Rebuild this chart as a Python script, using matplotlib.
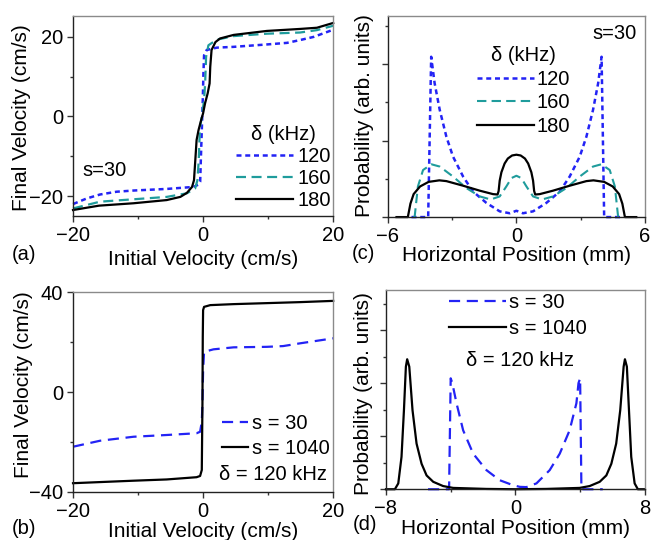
import numpy as np
import matplotlib
matplotlib.use("Agg")
import matplotlib.pyplot as plt
from matplotlib.ticker import MultipleLocator, NullFormatter

plt.rcParams['font.family'] = ['Liberation Sans', 'DejaVu Sans']

BLUE = '#2323f5'
TEAL = '#1f9c9c'
BLACK = '#000000'

# (a) final vs initial velocity, s=30, three detunings
a_x120 = [-20, -17.9, -15.85, -13.3, -10.7, -5.6, -1.5, -0.7, -0.45, -0.35, -0.25, -0.15,
          -0.05, 0.05, 0.15, 0.55, 2.1, 4.7, 9.8, 12.9, 14.9, 17.0, 20]
a_y120 = [-22.0, -20.6, -19.6, -18.9, -18.6, -18.2, -17.7, -17.1, -16.4, -11.0, -5.9, -0.9,
          4.1, 10.8, 15.4, 16.7, 17.3, 17.5, 18.1, 18.5, 19.2, 20.0, 21.8]
a_x160 = [-20, -15.85, -10.7, -5.6, -2.5, -1.23, -0.87, -0.67, -0.56, -0.46, -0.2, 0.15,
          0.31, 0.46, 0.82, 2.1, 4.7, 9.8, 14.9, 17.5, 20]
a_y160 = [-23.1, -21.4, -20.8, -20.2, -19.3, -18.1, -16.0, -11.0, -5.9, -2.6, -0.1, 4.1,
          8.3, 15.0, 17.9, 19.3, 20.2, 20.8, 21.1, 21.7, 22.8]
a_x180 = [-20, -16, -10.7, -5.6, -3.5, -2.5, -1.7, -1.4, -1.2, -1.0, -0.7, -0.3, 0, 0.3,
          0.7, 1.0, 1.1, 1.3, 1.9, 2.6, 4.7, 9.8, 14.9, 17.5, 20]
a_y180 = [-23.5, -22.4, -21.8, -21.0, -20.2, -19.2, -17.7, -16.0, -11.0, -5.9, -3.4, -0.9,
          0.8, 3.3, 5.8, 8.3, 12.5, 16.7, 18.7, 19.6, 20.5, 21.5, 22.0, 22.3, 23.5]

# (b) final vs initial velocity, delta=120 kHz, two s values
b_x30 = [-20, -15.85, -10.7, -5.6, -1.0, -0.46, -0.2, -0.1, 0, 0.15, 1.6, 4.7, 9.8, 12.3, 14.9, 20]
b_y30 = [-21.9, -19.5, -17.9, -17.2, -16.5, -15.9, -11.9, -4.5, 8.8, 16.1, 17.1, 17.9, 18.1,
         18.4, 19.5, 21.5]
b_x1040 = [-20, -10.7, -5.6, -1.0, -0.46, -0.2, -0.1, -0.05, 0, 0.15, 1.1, 4.7, 9.8, 14.9, 20]
b_y1040 = [-36.5, -35.5, -35.0, -34.1, -33.6, -31.2, -4.5, 22.1, 32.8, 34.1, 34.8, 35.2,
           35.6, 36.0, 36.5]

# (c) position distribution, s=30
c_x120 = [-4.9, -4.12, -3.98, -3.82, -3.58, -3.27, -2.96, -2.49, -2.03, -1.40, -0.78, -0.31,
          0, 0.31, 0.78, 1.40, 2.03, 2.49, 2.96, 3.27, 3.58, 3.82, 3.98, 4.1, 4.85]
c_y120 = [0, 0, 4.19, 3.5, 2.8, 2.1, 1.58, 1.06, 0.67, 0.37, 0.15, 0.10, 0.165, 0.10, 0.15,
          0.37, 0.67, 1.06, 1.58, 2.1, 2.8, 3.5, 4.19, 0, 0]
c_x160 = [-4.8, -4.75, -4.6, -4.36, -3.97, -3.58, -2.96, -2.34, -1.71, -1.2, -0.78, -0.47,
          -0.23, 0, 0.23, 0.47, 0.78, 1.2, 1.71, 2.34, 2.96, 3.58, 3.97, 4.36, 4.6, 4.75, 4.8]
c_y160 = [0, 0.02, 0.8, 1.23, 1.38, 1.32, 1.06, 0.76, 0.54, 0.46, 0.54, 0.80, 1.02, 1.08,
          1.02, 0.80, 0.54, 0.46, 0.54, 0.76, 1.06, 1.32, 1.38, 1.23, 0.8, 0.02, 0]
c_x180 = [-5.6, -5.07, -4.95, -4.8, -4.5, -4.1, -3.6, -3.27, -2.49, -1.71, -1.09, -0.88,
          -0.83, -0.78, -0.70, -0.55, -0.40, -0.2, 0, 0.2, 0.40, 0.55, 0.70, 0.78, 0.83, 0.88,
          1.09, 1.71, 2.49, 3.27, 3.6, 4.1, 4.5, 4.8, 4.95, 5.07, 5.6]
c_y180 = [0, 0, 0.35, 0.6, 0.8, 0.92, 0.96, 0.94, 0.82, 0.69, 0.60, 0.59, 0.68, 0.95, 1.17,
          1.40, 1.53, 1.61, 1.63, 1.61, 1.53, 1.40, 1.17, 0.95, 0.68, 0.59, 0.60, 0.69, 0.82,
          0.94, 0.96, 0.92, 0.8, 0.6, 0.35, 0, 0]

# (d) position distribution, delta=120 kHz
d_x30 = [-5.4, -4.1, -4.0, -3.9, -3.64, -3.23, -2.61, -1.79, -0.97, -0.14, 0.27, 0.68, 1.30,
         2.12, 2.74, 3.35, 3.77, 3.9, 4.0, 4.08, 5.4]
d_y30 = [0, 0, 2.09, 2.0, 1.62, 1.11, 0.67, 0.36, 0.17, 0.075, 0.045, 0.04, 0.11, 0.36, 0.67,
         1.11, 1.62, 2.0, 2.09, 0, 0]
d_x1040 = [-8, -7.45, -7.24, -7.04, -6.89, -6.77, -6.69, -6.56, -6.36, -6.11, -5.80, -5.49,
           -5.08, -4.47, -3.85, -1.79, 0, 1.91, 3.97, 4.59, 5.21, 5.62, 5.93, 6.23, 6.48, 6.69,
           6.77, 6.89, 7.02, 7.16, 7.37, 7.57, 8]
d_y1040 = [0, 0, 0.11, 0.61, 1.49, 2.31, 2.45, 2.31, 1.49, 0.86, 0.48, 0.26, 0.14, 0.06, 0.025,
           0.006, 0, 0.006, 0.025, 0.06, 0.14, 0.26, 0.48, 0.86, 1.49, 2.31, 2.45, 2.31, 1.49,
           0.61, 0.11, 0, 0]

DOT = (0, (2, 1.5))
DASH_T = (0, (4.5, 2.5))
DASH_B = (0, (5, 3))
FS = 14.5


def style(ax):
    for side in ('left', 'bottom'):
        ax.spines[side].set_color('#222222')
    for side in ('top', 'right'):
        ax.spines[side].set_color('#8a8a8a')
    for sp in ax.spines.values():
        sp.set_linewidth(1.0)
    ax.tick_params(which='both', direction='out', labelsize=FS, color='#333333', width=1.0)
    ax.tick_params(which='major', length=4.5, pad=2.5)
    ax.tick_params(which='minor', length=2.5)


fig = plt.figure(figsize=(6.52, 5.40), dpi=100)
ax_a = fig.add_axes([0.112, 0.600, 0.399, 0.370])
ax_b = fig.add_axes([0.112, 0.089, 0.399, 0.370])
ax_c = fig.add_axes([0.595, 0.598, 0.394, 0.372])
ax_d = fig.add_axes([0.592, 0.094, 0.397, 0.3685])

# ---- (a)
ax_a.plot(a_x120, a_y120, color=BLUE, lw=1.8, ls=DOT, label='120')
ax_a.plot(a_x160, a_y160, color=TEAL, lw=1.6, ls=DASH_T, label='160')
ax_a.plot(a_x180, a_y180, color=BLACK, lw=1.6, label='180')
ax_a.set_xlim(-20, 20)
ax_a.set_ylim(-25, 25.2)
ax_a.set_xticks([-20, 0, 20])
ax_a.set_yticks([-20, 0, 20])
ax_a.xaxis.set_minor_locator(MultipleLocator(10))
ax_a.yaxis.set_minor_locator(MultipleLocator(10))
style(ax_a)
ax_a.set_xlabel('Initial Velocity (cm/s)', fontsize=FS + 0.5)
ax_a.set_ylabel('Final Velocity (cm/s)', fontsize=FS + 0.5)
ax_a.yaxis.set_label_coords(-0.162, 0.49)
ax_a.xaxis.set_label_coords(0.5, -0.17)
ax_a.text(0.038, 0.23, 's=30', transform=ax_a.transAxes, fontsize=FS, va='center')
ax_a.legend(title='δ (kHz)', fontsize=FS, title_fontsize=FS, frameon=False,
            loc='lower right', bbox_to_anchor=(1.0, 0.02), borderaxespad=0, borderpad=0.1,
            handlelength=2.8, handletextpad=0.25, labelspacing=0.15)

# ---- (b)
ax_b.plot(b_x30, b_y30, color=BLUE, lw=1.6, ls=DASH_B, label='s = 30')
ax_b.plot(b_x1040, b_y1040, color=BLACK, lw=1.6, label='s = 1040')
ax_b.set_xlim(-20, 20)
ax_b.set_ylim(-40, 40)
ax_b.set_xticks([-20, 0, 20])
ax_b.set_yticks([-40, 0, 40])
ax_b.xaxis.set_minor_locator(MultipleLocator(10))
ax_b.yaxis.set_minor_locator(MultipleLocator(20))
style(ax_b)
ax_b.set_xlabel('Initial Velocity (cm/s)', fontsize=FS + 0.5)
ax_b.set_ylabel('Final Velocity (cm/s)', fontsize=FS + 0.5)
ax_b.yaxis.set_label_coords(-0.155, 0.535)
ax_b.xaxis.set_label_coords(0.5, -0.152)
ax_b.legend(fontsize=FS, frameon=False, loc='lower right', bbox_to_anchor=(0.985, 0.17),
            borderaxespad=0, borderpad=0, handlelength=1.3, handletextpad=0.15,
            labelspacing=0.3)
ax_b.text(0.977, 0.085, 'δ = 120 kHz', transform=ax_b.transAxes, fontsize=FS,
          ha='right', va='center')

# ---- (c)
ax_c.plot(c_x120, c_y120, color=BLUE, lw=1.8, ls=DOT, label='120')
ax_c.plot(c_x160, c_y160, color=TEAL, lw=1.5, ls=DASH_T, label='160')
ax_c.plot(c_x180, c_y180, color=BLACK, lw=1.6, label='180')
ax_c.set_xlim(-6, 6)
ax_c.set_ylim(0, 5.25)
ax_c.set_xticks([-6, 0, 6])
ax_c.xaxis.set_minor_locator(MultipleLocator(3))
ax_c.yaxis.set_major_locator(MultipleLocator(2))
ax_c.yaxis.set_minor_locator(MultipleLocator(1))
ax_c.yaxis.set_major_formatter(NullFormatter())
style(ax_c)
ax_c.set_xlabel('Horizontal Position (mm)', fontsize=FS + 0.5)
ax_c.set_ylabel('Probability (arb. units)', fontsize=FS + 0.5)
ax_c.yaxis.set_label_coords(-0.055, 0.507)
ax_c.xaxis.set_label_coords(0.5, -0.145)
ax_c.text(0.969, 0.915, 's=30', transform=ax_c.transAxes, fontsize=FS, ha='right', va='center')
ax_c.legend(title='δ (kHz)', fontsize=FS, title_fontsize=FS, frameon=False,
            loc='upper right', bbox_to_anchor=(0.71, 0.85), borderaxespad=0, borderpad=0,
            handlelength=2.8, handletextpad=0.15, labelspacing=0.22)

# ---- (d)
ax_d.plot(d_x30, d_y30, color=BLUE, lw=1.6, ls=DASH_B, label='s = 30')
ax_d.plot(d_x1040, d_y1040, color=BLACK, lw=1.6, label='s = 1040')
ax_d.set_xlim(-8, 8)
ax_d.set_ylim(0, 3.75)
ax_d.set_xticks([-8, 0, 8])
ax_d.xaxis.set_minor_locator(MultipleLocator(4))
ax_d.yaxis.set_major_locator(MultipleLocator(1))
ax_d.yaxis.set_minor_locator(MultipleLocator(0.5))
ax_d.yaxis.set_major_formatter(NullFormatter())
style(ax_d)
ax_d.set_xlabel('Horizontal Position (mm)', fontsize=FS + 0.5)
ax_d.set_ylabel('Probability (arb. units)', fontsize=FS + 0.5)
ax_d.yaxis.set_label_coords(-0.05, 0.48)
ax_d.xaxis.set_label_coords(0.5, -0.148)
ax_d.legend(fontsize=FS, frameon=False, loc='upper right', bbox_to_anchor=(0.775, 0.985),
            borderaxespad=0, borderpad=0, handlelength=2.8, handletextpad=0.15,
            labelspacing=0.35)
ax_d.text(0.517, 0.648, 'δ = 120 kHz', transform=ax_d.transAxes, fontsize=FS,
          ha='center', va='center')

for lab, x, y in [('(a)', 0.018, 0.528), ('(b)', 0.018, 0.022),
                  ('(c)', 0.540, 0.531), ('(d)', 0.541, 0.028)]:
    fig.text(x, y, lab, fontsize=FS, va='center')

for ax in (ax_a, ax_b, ax_c, ax_d):
    for ln in ax.lines:
        ln.set_clip_on(False)

fig.savefig('out.png', dpi=100)
